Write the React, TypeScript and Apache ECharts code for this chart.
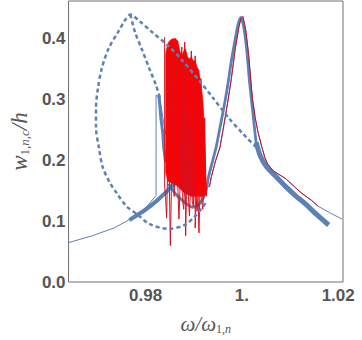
import React, { useEffect, useRef } from "react";
import * as echarts from "echarts";

// ---- axis ticks ----
const xTicks = [0.98, 1.0, 1.02];
const yTicks = [0, 0.1, 0.2, 0.3, 0.4];

// ---- thin blue (analytic) response curve ----
const analyticOmega = [0.96396, 0.96891, 0.97347, 0.97723, 0.9798, 0.98218, 0.98218, 0.98297, 0.98376, 0.98475, 0.98871, 0.99228, 0.99327, 0.99366, 0.99446, 0.99545, 0.99624, 0.99703, 0.99782, 0.99861, 0.99941, 0.9998, 1.0002, 1.00079, 1.00139, 1.00218, 1.00277, 1.00337, 1.00416, 1.00475, 1.00535, 1.00653, 1.00911, 1.01089, 1.01248, 1.01446, 1.01584, 1.01842, 1.02079];
const analyticAmp = [0.0645, 0.0758, 0.0887, 0.1048, 0.1194, 0.1419, 0.3065, 0.3016, 0.2613, 0.221, 0.1806, 0.1565, 0.1565, 0.1726, 0.1968, 0.221, 0.2565, 0.2935, 0.3339, 0.3823, 0.4194, 0.4323, 0.4355, 0.4145, 0.3742, 0.3016, 0.2694, 0.2452, 0.221, 0.2048, 0.1935, 0.1823, 0.1694, 0.1565, 0.1452, 0.1339, 0.1242, 0.1129, 0.1032];

// ---- red (simulated) resonance curve ----
const simOmega = [0.99327, 0.99366, 0.99446, 0.99545, 0.99624, 0.99703, 0.99782, 0.99861, 0.99941, 0.9998, 1.0002, 1.00079, 1.00139, 1.00218, 1.00277, 1.00337, 1.00416, 1.00475, 1.00535, 1.00653, 1.00911, 1.01089, 1.01248, 1.01446, 1.01584];
const simAmp = [0.1565, 0.1726, 0.1968, 0.221, 0.2565, 0.2935, 0.3339, 0.3823, 0.4194, 0.4323, 0.4355, 0.4145, 0.3742, 0.3016, 0.2694, 0.2452, 0.221, 0.2048, 0.1935, 0.1823, 0.1694, 0.1565, 0.1452, 0.1339, 0.1242];

// ---- red chaotic region: envelope ----
const chaosOmega = [0.98416, 0.98436, 0.98475, 0.98535, 0.98614, 0.98673, 0.98713, 0.98752, 0.98792, 0.98832, 0.98871, 0.98911, 0.9895, 0.9899, 0.9903, 0.99069, 0.99109, 0.99149, 0.99188, 0.99208, 0.99228, 0.99248, 0.99267];
const chaosTop = [0.3742, 0.3823, 0.3935, 0.3984, 0.4, 0.3952, 0.379, 0.371, 0.379, 0.3823, 0.3694, 0.3661, 0.3694, 0.3629, 0.3629, 0.3532, 0.3468, 0.3258, 0.3016, 0.2774, 0.2371, 0.1887, 0.1484];
const chaosBottom = [0.1806, 0.1726, 0.1645, 0.1629, 0.1597, 0.1565, 0.1532, 0.15, 0.1468, 0.1452, 0.1435, 0.1419, 0.1403, 0.1403, 0.1403, 0.1403, 0.1403, 0.1403, 0.1403, 0.1403, 0.1419, 0.1435, 0.1468];

// ---- red chaotic region: spikes ----
const spikeOmega = [0.98396, 0.98396, 0.98416, 0.98436, 0.98455, 0.98475, 0.98495, 0.98515, 0.98535, 0.98574, 0.98594, 0.98634, 0.98673, 0.98693, 0.98713, 0.98752, 0.98772, 0.98792, 0.98812, 0.98812, 0.98832, 0.98832, 0.98851, 0.98871, 0.98891, 0.98911, 0.98931, 0.9895, 0.9897, 0.9899, 0.9901, 0.9903, 0.9903, 0.9905, 0.99069, 0.99089, 0.99109, 0.99129, 0.99149, 0.99168, 0.99188, 0.99208, 0.99228, 0.99248, 0.99267];
const spikeAmp = [0.4016, 0.1565, 0.1403, 0.1048, 0.1726, 0.3661, 0.1565, 0.0597, 0.1484, 0.3903, 0.1403, 0.3952, 0.1484, 0.1032, 0.1484, 0.3855, 0.1323, 0.1194, 0.1565, 0.3935, 0.1403, 0.0758, 0.1565, 0.3661, 0.1403, 0.1081, 0.1484, 0.379, 0.1323, 0.1242, 0.1565, 0.371, 0.0887, 0.1403, 0.1161, 0.1403, 0.0806, 0.1484, 0.3339, 0.1323, 0.1194, 0.1565, 0.2694, 0.1565, 0.1403];

// ---- thick blue (numerical points) ----
const lowerOmega = [0.97663, 0.9798, 0.98218, 0.98396, 0.98535, 0.98673];
const lowerAmp = [0.1016, 0.1177, 0.1323, 0.1452, 0.1565, 0.1677];
const upperDotsOmega = [0.98277, 0.98297, 0.98317, 0.98356, 0.98376, 0.98416];
const upperDotsAmp = [0.3065, 0.2887, 0.2694, 0.2452, 0.221, 0.1968];
const peakOmega = [0.98475, 0.98634, 0.98812, 0.9897, 0.99089, 0.99208, 0.99267, 0.99307, 0.99386, 0.99465, 0.99545, 0.99624, 0.99703, 0.99782, 0.99861, 0.99921, 0.9998, 1.0004, 1.00099, 1.00158, 1.00218, 1.00257, 1.00297, 1.00376];
const peakAmp = [0.1613, 0.1435, 0.1306, 0.1226, 0.1258, 0.1387, 0.1532, 0.1726, 0.1968, 0.221, 0.2532, 0.2855, 0.321, 0.3629, 0.3984, 0.4226, 0.4339, 0.4177, 0.3823, 0.329, 0.2855, 0.2565, 0.229, 0.2081];
const tailOmega = [1.00297, 1.00376, 1.00515, 1.00713, 1.00911, 1.01109, 1.01307, 1.01545, 1.01802];
const tailAmp = [0.229, 0.2081, 0.1887, 0.1726, 0.1565, 0.1419, 0.129, 0.1113, 0.0935];

// ---- dashed (unstable) branches ----
const loopOmega = [1.00297, 1.0002, 0.99723, 0.99406, 0.99129, 0.98733, 0.98475, 0.98139, 0.97881, 0.97683, 0.97584, 0.97426, 0.97228, 0.97089, 0.9701, 0.9697, 0.9697, 0.9703, 0.97109, 0.97248, 0.97406, 0.97604, 0.97822, 0.98079, 0.98475, 0.98812, 0.9901, 0.99168, 0.99267];
const loopAmp = [0.221, 0.2435, 0.2694, 0.3016, 0.329, 0.3661, 0.3871, 0.4097, 0.4274, 0.4387, 0.4306, 0.4097, 0.3823, 0.35, 0.3177, 0.2855, 0.2532, 0.221, 0.1887, 0.1645, 0.1452, 0.1242, 0.1113, 0.0952, 0.0871, 0.0935, 0.1065, 0.121, 0.1323];
const innerOmega = [0.97683, 0.97782, 0.97921, 0.98079, 0.98218, 0.98297];
const innerAmp = [0.4387, 0.4097, 0.3823, 0.35, 0.3226, 0.3016];

const BLUE = "#5E81B5";
const DARKRED = "#C4122B";
const RED = "#FF0000";
const LABEL = "#555555";

const zip = (a: number[], b: number[]) => a.map((v, i) => [v, b[i]]);

export default function App() {
  const ref = useRef<HTMLDivElement>(null);
  useEffect(() => {
    if (!ref.current) return;
    const chart = echarts.init(ref.current, null, { renderer: "svg" });
    const lineBase = { type: "line", showSymbol: false, symbol: "none", silent: true, animation: false };
    chart.setOption({
      animation: false,
      grid: { left: 55, top: 1, right: 19, bottom: 53, show: true, borderColor: "#707070", borderWidth: 1, backgroundColor: "transparent" },
      xAxis: {
        type: "value",
        min: 0.964,
        max: 1.021,
        splitLine: { show: false },
        axisLine: { show: false },
        axisTick: { show: false },
        axisLabel: {
          customValues: xTicks,
          margin: 5,
          color: LABEL,
          fontFamily: "Liberation Sans, Arial, sans-serif",
          fontWeight: "bold",
          fontSize: 17,
          formatter: (v: number) => (Math.abs(v - 1) < 1e-9 ? "1." : v.toFixed(2)),
        },
        name: "{i|ω/ω}{s|1,}{n|n}",
        nameLocation: "middle",
        nameGap: 31,
        nameTextStyle: {
          rich: {
            i: { fontFamily: "Liberation Serif, serif", fontStyle: "italic", fontSize: 21, color: LABEL },
            s: { fontFamily: "Liberation Serif, serif", fontSize: 12, color: LABEL, padding: [10, 0, 0, 0] },
            n: { fontFamily: "Liberation Serif, serif", fontStyle: "italic", fontSize: 12, color: LABEL, padding: [10, 0, 0, 0] },
          },
        },
      },
      yAxis: {
        type: "value",
        min: 0,
        max: 0.461,
        splitLine: { show: false },
        axisLine: { show: false },
        axisTick: { show: false },
        axisLabel: {
          customValues: yTicks,
          margin: 3,
          color: LABEL,
          fontFamily: "Liberation Sans, Arial, sans-serif",
          fontWeight: "bold",
          fontSize: 17,
          formatter: (v: number) => v.toFixed(1),
        },
        name: "{i|w}{s|1,}{n|n,c}{i|/h}",
        nameLocation: "middle",
        nameGap: 28,
        nameTextStyle: {
          rich: {
            i: { fontFamily: "Liberation Serif, serif", fontStyle: "italic", fontSize: 23, color: LABEL },
            s: { fontFamily: "Liberation Serif, serif", fontSize: 13, color: LABEL, padding: [10, 0, 0, 0] },
            n: { fontFamily: "Liberation Serif, serif", fontStyle: "italic", fontSize: 13, color: LABEL, padding: [10, 0, 0, 0] },
          },
        },
      },
      series: [
        { ...lineBase, z: 1, data: zip(analyticOmega, analyticAmp), lineStyle: { color: BLUE, width: 1 } },
        { ...lineBase, z: 2, smooth: 0.2, data: zip(lowerOmega, lowerAmp), lineStyle: { color: BLUE, width: 4 } },
        { ...lineBase, z: 2, data: zip(upperDotsOmega, upperDotsAmp), lineStyle: { color: BLUE, width: 3 } },
        { ...lineBase, z: 2, smooth: 0.2, data: zip(peakOmega, peakAmp), lineStyle: { color: BLUE, width: 2.8 } },
        { ...lineBase, z: 2, smooth: 0.2, data: zip(tailOmega, tailAmp), lineStyle: { color: BLUE, width: 5 } },
        {
          type: "custom",
          z: 3,
          silent: true,
          clip: true,
          data: chaosOmega.map((w, i) => [w, chaosTop[i], chaosBottom[i]]),
          encode: { x: 0, y: 1 },
          renderItem: (params: any, api: any) => {
            if (params.dataIndex !== 0) return null;
            const pts: number[][] = [];
            for (let i = 0; i < chaosOmega.length; i++) pts.push(api.coord([chaosOmega[i], chaosTop[i]]));
            for (let i = chaosOmega.length - 1; i >= 0; i--) pts.push(api.coord([chaosOmega[i], chaosBottom[i]]));
            return { type: "polygon", shape: { points: pts }, style: { fill: RED, stroke: RED, lineWidth: 0.5 } };
          },
        },
        { ...lineBase, z: 3, data: zip(spikeOmega, spikeAmp), lineStyle: { color: "#D8101E", width: 1 } },
        { ...lineBase, z: 4, data: zip(simOmega, simAmp), lineStyle: { color: DARKRED, width: 1 } },
        { ...lineBase, z: 5, smooth: 0.3, data: zip(loopOmega, loopAmp), lineStyle: { color: BLUE, width: 2.5, type: [4, 3] } },
        { ...lineBase, z: 5, smooth: 0.3, data: zip(innerOmega, innerAmp), lineStyle: { color: BLUE, width: 2.5, type: [4, 3] } },
      ],
    });
    return () => chart.dispose();
  }, []);
  return <div ref={ref} style={{ position: "fixed", left: 0, top: 0, width: 362, height: 340, background: "#fff" }} />;
}
